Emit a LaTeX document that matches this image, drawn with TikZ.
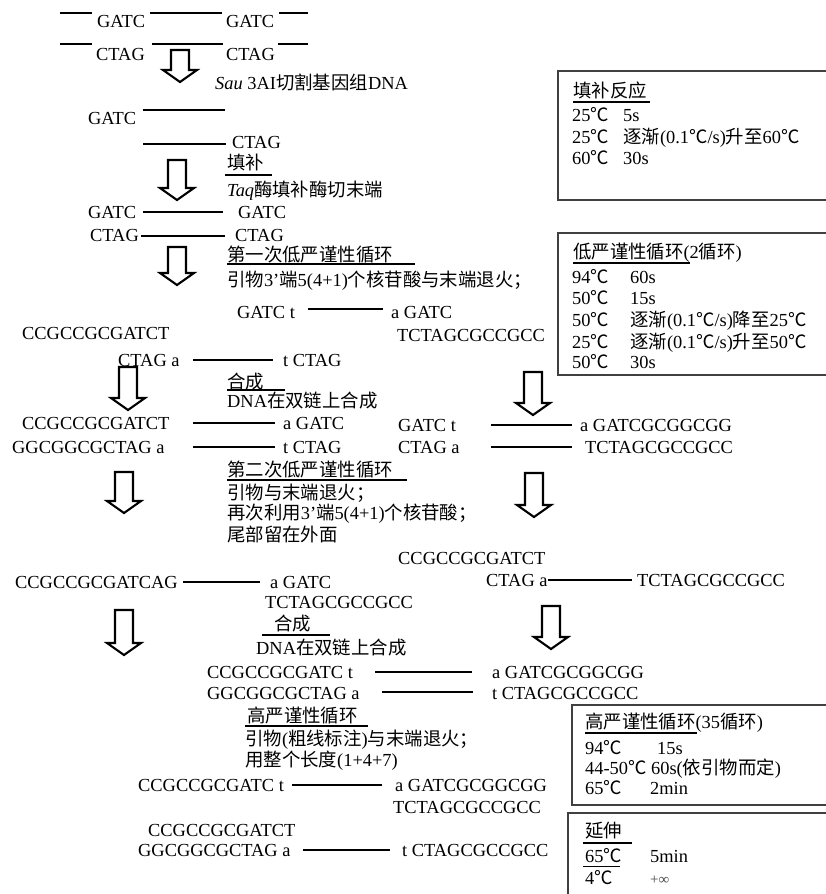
\documentclass[tikz,border=0pt]{standalone}
\usepackage{fontspec}
\setmainfont{Liberation Serif}
\newfontfamily\cjk{Noto Sans CJK SC}
\newcommand\zh[1]{{\cjk #1}}
\newcommand\dc{\zh{℃}}
\tikzset{
  txt/.style={anchor=west, inner sep=0pt, text height=13pt, text depth=0pt, font=\fontsize{18.4}{22}\selectfont},
  strand/.style={line width=1.9pt},
  uline/.style={line width=1.6pt},
  boxline/.style={line width=2pt, draw=black!75},
  arrowline/.style={line width=2.1pt, line join=miter},
  pics/darrow/.style={code={\draw[arrowline] (-9,0) -- (-9,#1-12) -- (-17,#1-12) -- (0,#1) -- (17,#1-12) -- (9,#1-12) -- (9,0) -- cycle;}},
}
\begin{document}
\begin{tikzpicture}[x=1pt,y=-1pt]
\useasboundingbox[fill=white] (0,0) rectangle (826,894);

% ---------- row 1 / row 2 : genomic DNA ----------
\node[txt] (g1) at (97,21) {GATC};
\node[txt] (g2) at (226,21) {GATC};
\draw[strand] (60,13) -- (92,13);
\draw[strand] (150,13) -- (222,13);
\draw[strand] (279,13) -- (308,13);
\node[txt] (c1) at (96,54) {CTAG};
\node[txt] (c2) at (226,54) {CTAG};
\draw[strand] (60,44) -- (92,44);
\draw[strand] (152,44) -- (223,44);
\draw[strand] (278,44) -- (308,44);
\pic at (180,50) {darrow=32};
\node[txt] (sau) at (215,83) {\textit{Sau} 3AI\zh{切割基因组}DNA};

% ---------- cut fragment ----------
\node[txt] (f1) at (88,118) {GATC};
\draw[strand] (143,110) -- (225,110);
\node[txt] (f2) at (232,142) {CTAG};
\draw[strand] (143,144) -- (226,144);

% ---------- fill in ----------
\node[txt] (fill) at (227,163) {\zh{填补}};
\draw[uline] (225,175) -- (272,175);
\pic at (177,160) {darrow=40};
\node[txt] (taq) at (227,190) {\textit{Taq}\zh{酶填补酶切末端}};
\node[txt] (h1) at (88,212) {GATC};
\draw[strand] (143,212) -- (223,212);
\node[txt] (h2) at (238,212) {GATC};
\node[txt] (h3) at (90,235) {CTAG};
\draw[strand] (141,236) -- (225,236);
\node[txt] (h4) at (235,235) {CTAG};

% ---------- first low stringency cycle ----------
\pic at (177,247) {darrow=38};
\node[txt] (lc1) at (227,255) {\zh{第一次低严谨性循环}};
\draw[uline] (227,264) -- (415,264);
\node[txt] (lc1b) at (227,280) {\zh{引物}3’\zh{端}5(4+1)\zh{个核苷酸与末端退火；}};
\node[txt] (p1) at (237,312) {GATC t};
\draw[strand] (308,309) -- (383,309);
\node[txt] (p2) at (391,312) {a GATC};
\node[txt] (p3) at (397,335) {TCTAGCGCCGCC};
\node[txt] (q1) at (22,333) {CCGCCGCGATCT};
\node[txt] (q2) at (118,360) {CTAG a};
\draw[strand] (193,360) -- (273,360);
\node[txt] (q3) at (283,360) {t CTAG};

% ---------- synthesis 1 ----------
\pic at (128,367) {darrow=43};
\pic at (533,372) {darrow=43};
\node[txt] (syn1) at (227,382) {\zh{合成}};
\draw[uline] (227,390) -- (285,390);
\node[txt] (syn1b) at (227,401) {DNA\zh{在双链上合成}};
\node[txt] (s1) at (22,423) {CCGCCGCGATCT};
\draw[strand] (193,423) -- (275,423);
\node[txt] (s2) at (283,423) {a GATC};
\node[txt] (s3) at (398,425) {GATC t};
\draw[strand] (491,425) -- (572,425);
\node[txt] (s4) at (580,425) {a GATCGCGGCGG};
\node[txt] (s5) at (12,447) {GGCGGCGCTAG a};
\draw[strand] (193,447) -- (275,447);
\node[txt] (s6) at (283,447) {t CTAG};
\node[txt] (s7) at (398,447) {CTAG a};
\draw[strand] (491,447) -- (572,447);
\node[txt] (s8) at (585,447) {TCTAGCGCCGCC};

% ---------- second low stringency cycle ----------
\node[txt] (lc2) at (227,470) {\zh{第二次低严谨性循环}};
\draw[uline] (227,480) -- (407,480);
\node[txt] (lc2b) at (227,493) {\zh{引物与末端退火；}};
\node[txt] (lc2c) at (227,513) {\zh{再次利用}3’\zh{端}5(4+1)\zh{个核苷酸；}};
\node[txt] (lc2d) at (227,535) {\zh{尾部留在外面}};
\pic at (124,472) {darrow=41};
\pic at (534,473) {darrow=44};
\node[txt] (u1) at (398,558) {CCGCCGCGATCT};
\node[txt] (u2) at (486,580) {CTAG a};
\draw[strand] (548,580) -- (632,580);
\node[txt] (u3) at (637,580) {TCTAGCGCCGCC};
\node[txt] (v1) at (15,582) {CCGCCGCGATCAG};
\draw[strand] (183,582) -- (260,582);
\node[txt] (v2) at (270,582) {a GATC};
\node[txt] (v3) at (265,602) {TCTAGCGCCGCC};

% ---------- synthesis 2 ----------
\node[txt] (syn2) at (274,624) {\zh{合成}};
\draw[uline] (262,635) -- (330,635);
\node[txt] (syn2b) at (256,648) {DNA\zh{在双链上合成}};
\pic at (124,610) {darrow=45};
\pic at (551,606) {darrow=43};
\node[txt] (w1) at (207,672) {CCGCCGCGATC t};
\draw[strand] (375,672) -- (472,672);
\node[txt] (w2) at (492,672) {a GATCGCGGCGG};
\node[txt] (w3) at (207,693) {GGCGGCGCTAG a};
\draw[strand] (382,692) -- (473,692);
\draw[line width=2.8pt] (382,692) -- (407,692);
\node[txt] (w4) at (492,693) {t CTAGCGCCGCC};

% ---------- high stringency ----------
\node[txt] (hc) at (247,716) {\zh{高严谨性循环}};
\draw[uline] (245,726) -- (368,726);
\node[txt] (hcb) at (245,739) {\zh{引物}(\zh{粗线标注})\zh{与末端退火；}};
\node[txt] (hcc) at (245,760) {\zh{用整个长度}(1+4+7)};
\node[txt] (x1) at (138,785) {CCGCCGCGATC t};
\draw[strand] (292,785) -- (382,785);
\node[txt] (x2) at (395,785) {a GATCGCGGCGG};
\node[txt] (x3) at (393,807) {TCTAGCGCCGCC};
\node[txt] (x4) at (148,830) {CCGCCGCGATCT};
\node[txt] (x5) at (138,850) {GGCGGCGCTAG a};
\draw[strand] (303,850) -- (390,850);
\node[txt] (x6) at (402,850) {t CTAGCGCCGCC};

% ---------- box 1 ----------
\draw[boxline] (828,71) -- (558,71) -- (558,200) -- (828,200);
\node[txt] (b1t) at (573,91) {\zh{填补反应}};
\draw[uline] (573,102) -- (650,102);
\node[txt] (b1a) at (572,115) {25\dc};
\node[txt] (b1b) at (623,115) {5s};
\node[txt] (b1c) at (572,137) {25\dc};
\node[txt] (b1d) at (623,137) {\zh{逐渐}(0.1\dc/s)\zh{升至}60\dc};
\node[txt] (b1e) at (572,158) {60\dc};
\node[txt] (b1f) at (623,158) {30s};

% ---------- box 2 ----------
\draw[boxline] (828,233) -- (558,233) -- (558,375) -- (828,375);
\node[txt] (b2t) at (573,252) {\zh{低严谨性循环}(2\zh{循环})};
\draw[uline] (573,263) -- (690,263);
\node[txt] (b2a) at (572,277) {94\dc};
\node[txt] (b2b) at (630,277) {60s};
\node[txt] (b2c) at (572,298) {50\dc};
\node[txt] (b2d) at (630,298) {15s};
\node[txt] (b2e) at (572,320) {50\dc};
\node[txt] (b2f) at (630,320) {\zh{逐渐}(0.1\dc/s)\zh{降至}25\dc};
\node[txt] (b2g) at (572,342) {25\dc};
\node[txt] (b2h) at (630,342) {\zh{逐渐}(0.1\dc/s)\zh{升至}50\dc};
\node[txt] (b2i) at (572,362) {50\dc};
\node[txt] (b2j) at (630,362) {30s};

% ---------- box 3 ----------
\draw[boxline] (828,705) -- (572,705) -- (572,805) -- (828,805);
\node[txt] (b3t) at (585,722) {\zh{高严谨性循环}(35\zh{循环})};
\draw[uline] (585,733) -- (697,733);
\node[txt] (b3a) at (585,748) {94\dc};
\node[txt] (b3b) at (657,748) {15s};
\node[txt] (b3c) at (585,768) {44-50\dc{} 60s(\zh{依引物而定})};
\node[txt] (b3d) at (585,788) {65\dc};
\node[txt] (b3e) at (650,788) {2min};

% ---------- box 4 ----------
\draw[boxline] (828,813) -- (568,813) -- (568,896);
\node[txt] (b4t) at (585,831) {\zh{延伸}};
\draw[uline] (583,843) -- (632,843);
\node[txt] (b4a) at (585,856) {65\dc};
\node[txt] (b4b) at (650,856) {5min};
\draw[line width=1.4pt] (583,866.5) -- (620,866.5);
\node[txt] (b4c) at (585,878) {4\dc};
\node[txt, font=\fontsize{15}{18}\selectfont, text=black!70] (b4d) at (650,878) {+∞};
\end{tikzpicture}
\end{document}
